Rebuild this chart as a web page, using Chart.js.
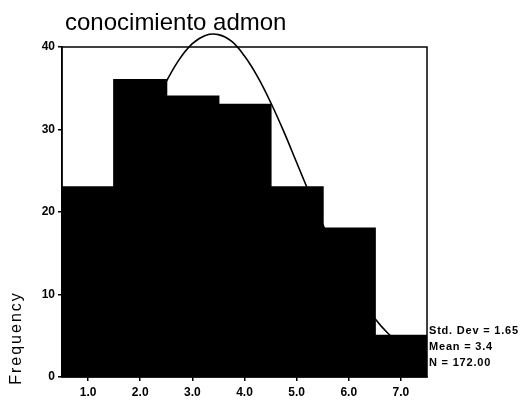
<!DOCTYPE html>
<html>
<head>
<meta charset="utf-8">
<script src="https://cdn.jsdelivr.net/npm/chart.js@4.4.1/dist/chart.umd.min.js"></script>
<style>
body{margin:0;background:#fff;}
#box{width:523px;height:404px;}
</style>
</head>
<body>
<div id="box"><canvas id="histograma" width="523" height="404"></canvas></div>
<script>

// conocimiento admon - histograma con curva normal

const titulo = "conocimiento admon";

const clases = [1, 2, 3, 4, 5, 6, 7];
const etiquetasX = ["1.0", "2.0", "3.0", "4.0", "5.0", "6.0", "7.0"];
const frecuencias = [23, 36, 34, 33, 23, 18, 5];

const ticksY = [0, 10, 20, 30, 40];

const curvaX = [0.5, 0.75, 1, 1.25, 1.5, 1.75, 2, 2.25, 2.5, 2.75, 3, 3.25, 3.5, 3.75, 4,
  4.25, 4.5, 4.75, 5, 5.25, 5.5, 5.75, 6, 6.25, 6.5, 6.75, 7, 7.25, 7.5];
const curvaY = [8.9, 11.4, 14.4, 17.8, 21.4, 25.2, 29.0, 32.6, 35.8, 38.5, 40.4, 41.4, 41.5, 40.7, 38.9,
  36.4, 33.3, 29.8, 26.0, 22.2, 18.5, 15.1, 12.0, 9.4, 7.1, 5.3, 3.9, 2.7, 1.9];

const estadisticos = ["Std. Dev = 1.65", "Mean = 3.4", "N = 172.00"];
const nombreEjeY = "Frequency";


// titulo, marco, estadisticos y nombre del eje
const textos = {
  id: "textos",
  afterDraw(chart){
    const ctx = chart.ctx;
    const a = chart.chartArea;
    ctx.save();

    ctx.strokeStyle = "#000";
    ctx.lineWidth = 1.5;
    ctx.strokeRect(a.left, a.top, a.right - a.left, a.bottom - a.top);

    ctx.fillStyle = "#000";
    ctx.textBaseline = "alphabetic";
    ctx.textAlign = "left";
    ctx.font = '24px "Liberation Sans", Arial, sans-serif';
    ctx.fillText(titulo, a.left + 3, 30);

    ctx.font = 'bold 11px "Liberation Sans", Arial, sans-serif';
    ctx.letterSpacing = "0.8px";
    estadisticos.forEach((t, i) => {
      ctx.fillText(t, a.right + 2, a.bottom - 43 + i * 16);
    });

    ctx.letterSpacing = "2px";
    ctx.font = '16px "Liberation Sans", Arial, sans-serif';
    ctx.translate(21, a.bottom - 39);
    ctx.rotate(-Math.PI / 2);
    ctx.textAlign = "center";
    ctx.fillText(nombreEjeY, 0, 0);

    ctx.restore();
  }
};


new Chart(
  document.getElementById("histograma"),
  {
    type: "bar",
    data: {
      datasets: [
        {
          type: "line",
          data: curvaX.map((x, i) => ({x: x, y: curvaY[i]})),
          borderColor: "#000",
          borderWidth: 1.6,
          pointRadius: 0,
          tension: 0.4,
          fill: false,
          clip: false,
          order: 0
        },
        {
          data: clases.map((x, i) => ({x: x, y: frecuencias[i]})),
          backgroundColor: "#000",
          borderWidth: 0,
          barPercentage: 1,
          categoryPercentage: 1,
          inflateAmount: 1,
          order: 1
        }
      ]
    },
    options: {
      responsive: false,
      devicePixelRatio: 1,
      animation: false,
      layout: {
        padding: {top: 47, right: 96, left: 0, bottom: 0}
      },
      plugins: {
        legend: {display: false},
        tooltip: {enabled: false}
      },
      scales: {
        x: {
          type: "linear",
          min: 0.5,
          max: 7.5,
          offset: false,
          afterBuildTicks: s => { s.ticks = clases.map(v => ({value: v})); },
          afterFit: s => { s.height = 27; },
          ticks: {
            autoSkip: false,
            maxRotation: 0,
            padding: 4,
            color: "#000",
            font: {family: "Liberation Sans", size: 12, weight: "bold"},
            callback: (v) => etiquetasX[clases.indexOf(v)]
          },
          grid: {
            offset: false,
            drawOnChartArea: false,
            drawTicks: true,
            tickLength: 4,
            color: "#000",
            lineWidth: 1.5
          },
          border: {color: "#000", width: 1.5}
        },
        y: {
          min: 0,
          max: 40,
          afterBuildTicks: s => { s.ticks = ticksY.map(v => ({value: v})); },
          afterFit: s => { s.width = 62; },
          ticks: {
            padding: 3,
            color: "#000",
            font: {family: "Liberation Sans", size: 12, weight: "bold"}
          },
          grid: {
            drawOnChartArea: false,
            drawTicks: true,
            tickLength: 4,
            color: "#000",
            lineWidth: 1.5
          },
          border: {color: "#000", width: 1.5}
        }
      }
    },
    plugins: [textos]
  }
);

</script>
</body>
</html>
